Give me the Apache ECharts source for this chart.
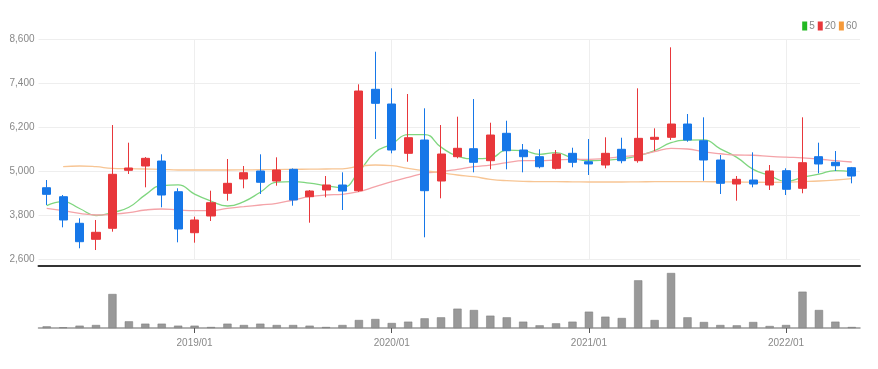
<!DOCTYPE html>
<html><head><meta charset="utf-8">
<script src="https://cdn.jsdelivr.net/npm/echarts@6/dist/echarts.min.js"></script>
<style>html,body{margin:0;padding:0;background:#fff}#c{width:878px;height:369px}</style>
</head><body><div id="c"></div>
<script>
const categories = ['2018/04','2018/05','2018/06','2018/07','2018/08','2018/09','2018/10','2018/11','2018/12',
'2019/01','2019/02','2019/03','2019/04','2019/05','2019/06','2019/07','2019/08','2019/09','2019/10','2019/11','2019/12',
'2020/01','2020/02','2020/03','2020/04','2020/05','2020/06','2020/07','2020/08','2020/09','2020/10','2020/11','2020/12',
'2021/01','2021/02','2021/03','2021/04','2021/05','2021/06','2021/07','2021/08','2021/09','2021/10','2021/11','2021/12',
'2022/01','2022/02','2022/03','2022/04','2022/05'];
const opens  = [4544,4299,3574,3137,3437,5019,5136,5272,4435,3317,3773,4392,4782,5000,4727,5046,4299,4482,4618,4463,
                7228,6827,5482,5845,4727,5390,5608,5281,6028,5572,5390,5073,5482,5253,5163,5592,5281,5864,5919,6281,
                5826,5300,4645,4754,4618,5008,4528,5390,5237,5090];
const closes = [4364,3664,3072,3328,4910,5082,5346,4345,3418,3664,4135,4664,4953,4692,5027,4209,4454,4618,4454,7181,
                6846,5572,5908,4463,5463,5619,5237,5981,5553,5390,5117,5463,5237,5191,5482,5281,5891,5919,6281,5845,
                5300,4664,4773,4645,5000,4501,5226,5191,5144,4863];
const lows   = [4073,3464,2892,2845,3345,4918,4555,4010,3055,3045,3636,4190,4528,4373,4599,4054,3590,4283,3936,4430,
                5872,5482,5253,3192,4255,5346,4964,5046,5046,4964,5073,5046,5101,4891,5073,5210,5226,5545,5845,5799,
                4735,4373,4190,4555,4482,4345,4392,4937,5000,4664];
const highs  = [4754,4345,3710,3664,6254,5772,5380,5455,4528,3754,4463,5327,5136,5455,5373,5070,4480,4863,4964,7364,
                8253,7255,7100,6710,6254,6481,6963,6317,6371,5736,5592,5572,5635,5872,5919,5908,7255,6164,8373,6554,
                6464,5436,4863,5510,5163,5073,6464,5772,5545,5110];
const ma5  = [4054,4163,3977,3786,3868,4011,4348,4602,4620,4371,4182,4045,4167,4422,4694,4709,4667,4600,4552,4983,
              5511,5734,5992,5994,5650,5405,5338,5353,5571,5556,5456,5501,5352,5280,5298,5331,5416,5553,5771,5843,
              5847,5602,5373,5045,4876,4717,4829,4913,5012,4985];
const ma20 = [3983,3917,3846,3800,3819,3863,3936,3964,3936,3917,3917,3983,4026,4073,4119,4209,4299,4345,4364,4435,
              4572,4708,4828,4937,4981,5046,5117,5163,5226,5281,5281,5300,5319,5319,5346,5390,5436,5526,5619,5600,
              5520,5470,5436,5430,5400,5377,5360,5327,5281,5245];
const ma60 = ['-',5117,5136,5117,5073,5063,5054,5046,5027,5027,5027,5027,5030,5035,5040,5045,5050,5054,5060,5130,
              5163,5145,5073,5008,4953,4891,4844,4773,4735,4719,4708,4708,4705,4700,4700,4700,4705,4708,4710,4708,
              4708,4705,4700,4695,4692,4695,4710,4727,4754,4790];
const volumes = [5,2,7,9,102,20,13,13,7,7,3,13,9,13,9,9,7,3,9,24,27,15,19,29,32,58,54,37,32,19,8,14,19,49,34,30,
                 143,24,165,32,18,9,8,18,6,9,109,54,19,3];
const yTicks = {min:2600, max:8600, interval:1200};

const isJan = (i, v) => String(v).endsWith('/01');
const janCats = categories.filter(c => c.endsWith('/01'));
const candleData = opens.map((o, i) => [o, closes[i], lows[i], highs[i]]);
const chart = echarts.init(document.getElementById('c'), null, {renderer:'canvas'});
const labelFont = 'Liberation Sans, sans-serif';
chart.setOption({
  animation:false,
  legend:{
    right:16, top:16, itemWidth:5, itemHeight:9, itemGap:3,
    icon:'rect',
    textStyle:{color:'#888', fontSize:10, fontFamily:labelFont, padding:[0,0,0,-3]},
    data:['5','20','60']
  },
  grid:[
    {left:38.5, right:18, top:39, height:220},
    {left:38.5, right:18, top:273, bottom:41}
  ],
  xAxis:[
    {type:'category', data:categories, gridIndex:0, boundaryGap:true, offset:7,
     axisLine:{show:true, lineStyle:{color:'#333', width:2}},
     axisTick:{show:false}, axisLabel:{show:false},
     splitLine:{show:false}},
    {type:'category', data:categories, gridIndex:1, boundaryGap:true,
     axisLine:{show:true, lineStyle:{color:'#999', width:1.5}},
     axisTick:{show:true, alignWithLabel:true, interval:isJan, length:5, lineStyle:{color:'#555'}},
     axisLabel:{show:true, interval:isJan, color:'#888', fontSize:10, fontFamily:labelFont, margin:10},
     splitLine:{show:false}}
  ],
  yAxis:[
    {type:'value', gridIndex:0, min:yTicks.min, max:yTicks.max, interval:yTicks.interval,
     axisLine:{show:false}, axisTick:{show:false},
     axisLabel:{color:'#888', fontSize:10, fontFamily:labelFont, margin:4,
       formatter:v => v.toLocaleString('en-US')},
     splitLine:{lineStyle:{color:'#eee'}}},
    {type:'value', gridIndex:1, min:0, max:v => v.max,
     axisLine:{show:false}, axisTick:{show:false}, axisLabel:{show:false}, splitLine:{show:false}}
  ],
  series:[
    {type:'candlestick', name:'price', xAxisIndex:0, yAxisIndex:0, data:candleData, barWidth:'52%', z:3,
     itemStyle:{color:'#e8373b', color0:'#1677e8', borderColor:'#e8373b', borderColor0:'#1677e8', borderWidth:1},
     markLine:{silent:true, symbol:'none', label:{show:false}, z:1,
       lineStyle:{color:'#eee', type:'solid', width:1},
       data:janCats.map(c => ({xAxis:c}))}},
    {type:'line', name:'5', data:ma5, xAxisIndex:0, yAxisIndex:0, symbol:'none', smooth:true,
     itemStyle:{color:'#22b822'}, lineStyle:{color:'#7fd67f', width:1.3}},
    {type:'line', name:'20', data:ma20, xAxisIndex:0, yAxisIndex:0, symbol:'none', smooth:true,
     itemStyle:{color:'#e8373b'}, lineStyle:{color:'#f4a3a8', width:1.3}},
    {type:'line', name:'60', data:ma60, xAxisIndex:0, yAxisIndex:0, symbol:'none', smooth:true,
     itemStyle:{color:'#f59a3b'}, lineStyle:{color:'#f7c594', width:1.3}},
    {type:'bar', name:'vol', xAxisIndex:1, yAxisIndex:1, data:volumes, barWidth:'50%',
     itemStyle:{color:'#999', borderColor:'#777', borderWidth:0.5}}
  ]
});
</script></body></html>
